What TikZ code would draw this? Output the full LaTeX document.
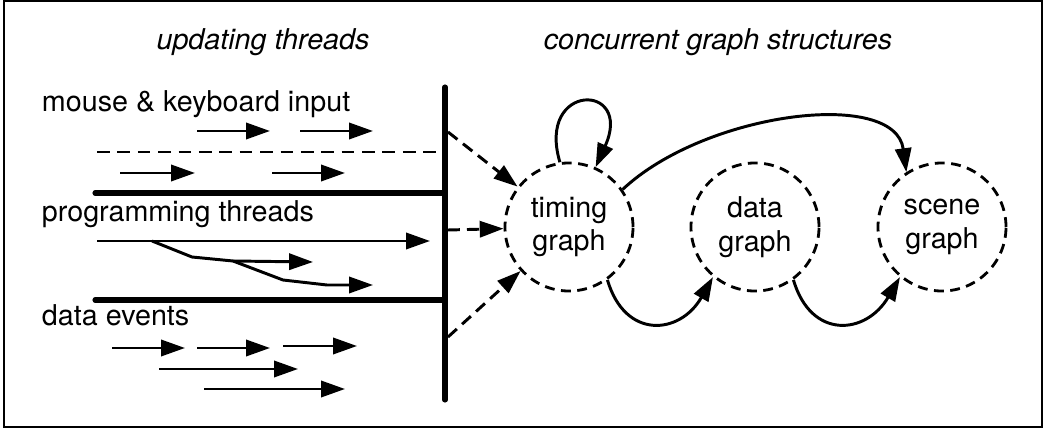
\documentclass[tikz,border=0pt]{standalone}
\usepackage{fontspec}
\setmainfont{TeX Gyre Heros}
\usetikzlibrary{arrows.meta, positioning}

\tikzset{
  thread/.style={line width=2.1pt, -{Triangle[length=17pt,width=11.5pt]}},
  feed/.style={line width=2.1pt, dash pattern=on 8.5pt off 5pt, -{Triangle[length=17pt,width=11.5pt]}},
  link/.style={line width=2.1pt, -{Triangle[length=17pt,width=11.5pt]}},
  barline/.style={line width=3.6pt, line cap=round},
  graphnode/.style={circle, draw, line width=2pt, dash pattern=on 7pt off 4.6pt,
    minimum size=3.2cm, inner sep=0pt, align=center},
}

\begin{document}
\begin{tikzpicture}[x=0.025cm, y=-0.025cm, every node/.style={font=\fontsize{20.4}{24}\selectfont}]
  \useasboundingbox (0,0) rectangle (1046,432);
  \draw[line width=1.4pt] (4,1) rectangle (1042,427);
  % ---------- TITLES ----------
  \node (ttl) at (263,42) {\itshape updating threads};
  \node (ttr) at (718,42) {\itshape concurrent graph structures};
  % ---------- THREADS ----------
  \node[anchor=base west] (mouse) at (37,112) {mouse \& keyboard input};
  \node[anchor=base west] (prog) at (37,222) {programming threads};
  \node[anchor=base west] (data) at (37,325) {data events};
  \coordinate (bartop) at (445,87);
  \coordinate (barbot) at (445,400);
  \draw[barline] (bartop) -- (barbot);
  \draw[barline] (95,193) -- (445,193);
  \draw[barline] (95,300) -- (445,300);
  \draw[line width=2.1pt, dash pattern=on 9pt off 5.5pt] (97,152) -- (445,152);
  \foreach \xa/\xb/\yy in {197/270/131, 300/373/131, 120/195/173, 272/345/173}
    \draw[thread] (\xa,\yy) -- (\xb,\yy);
  \draw[thread] (97,241) -- (430,241);
  \draw[thread] (152,241) -- (192,257) -- (233,261) -- (313,262);
  \draw[thread] (233,261) -- (283,280) -- (327,285) -- (373,285);
  \foreach \xa/\xb/\yy in {112/185/348, 197/270/348, 283/357/346, 159/298/369, 204/345/389}
    \draw[thread] (\xa,\yy) -- (\xb,\yy);
  % ---------- GRAPHS ----------
  \node[graphnode] (timing) at (569,227) {timing\\graph};
  \node[graphnode] (datag) at (755,227) {data\\graph};
  \node[graphnode] (scene) at (942,227) {scene\\graph};
  \coordinate (fa) at (448,132);
  \coordinate (fb) at (448,230);
  \coordinate (fc) at (448,337);
  \foreach \f in {fa,fb,fc} \draw[feed] (\f) -- (timing);
  \draw[link] (timing.98) .. controls (536,82) and (634,82) .. (timing.66);
  \draw[link] (timing.35) .. controls (705,112) and (895,88) .. (scene.123);
  \draw[link] (timing.-54) .. controls (625,340) and (680,335) .. (datag.-130);
  \draw[link] (datag.-54) .. controls (811,340) and (866,335) .. (scene.-130);
\end{tikzpicture}
\end{document}
